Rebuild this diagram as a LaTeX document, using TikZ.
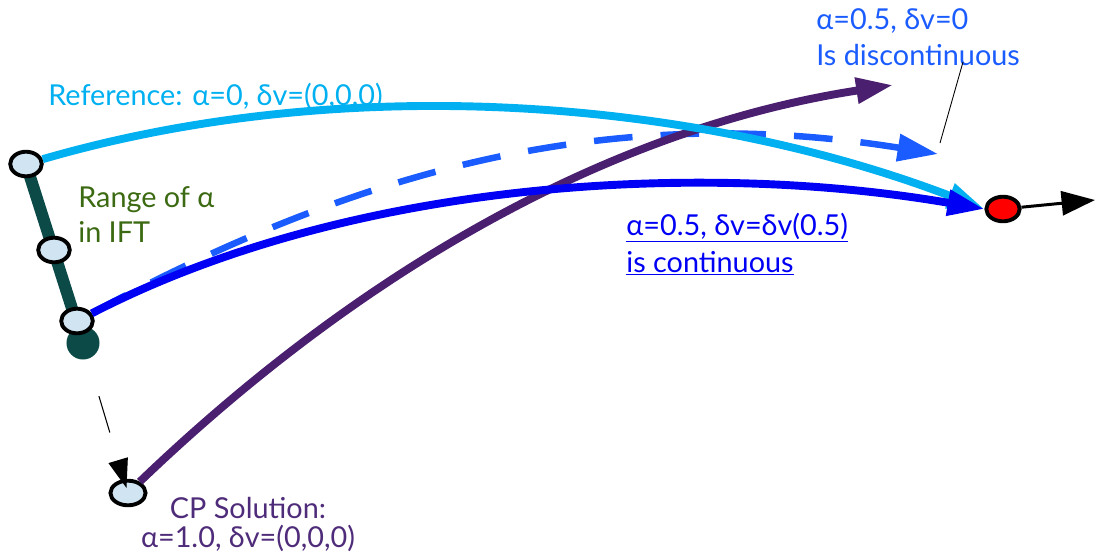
\documentclass[tikz,border=0pt]{standalone}
\usepackage{fontspec}
\setmainfont{Lato}
\usetikzlibrary{arrows.meta,shapes.geometric}
\definecolor{refcyan}{HTML}{00B0F0}
\definecolor{contblue}{HTML}{0000F5}
\definecolor{discblue}{HTML}{1A5CFF}
\definecolor{cppurple}{HTML}{4B1F70}
\definecolor{cptext}{HTML}{4F2C7A}
\definecolor{rangeteal}{HTML}{0B4A47}
\definecolor{rangegreen}{HTML}{3C6A12}
\definecolor{ptfill}{HTML}{D0E4F2}

\begin{document}
\begin{tikzpicture}[x=0.02cm, y=-0.02cm,
    pt/.style={ellipse, draw=black, line width=2.2pt, fill=ptfill,
               minimum width=18pt, minimum height=14pt, inner sep=0pt},
    curve/.style={line width=4.5pt},
    bigtip/.style={-{Triangle[length=21pt, width=14pt]}},
    lbl/.style={font=\fontsize{16.4}{19.5}\selectfont, align=left, inner sep=0pt}
  ]
  \useasboundingbox (0,0) rectangle (1096,552);

  \node[circle, fill=rangeteal, minimum size=18.8pt, inner sep=0pt] (stop) at (83,343) {};
  \draw[rangeteal, line width=6.8pt] (26,164) -- (stop.center);
  \node[pt] (a0) at (26,164) {};
  \node[pt] (amid) at (54,250) {};
  \node[pt] (ahalf) at (77,321) {};
  \node[pt, minimum width=20pt] (cp) at (128,493) {};
  \node[pt, fill=red, minimum width=19pt] (goal) at (1003,209) {};

  \coordinate (discend) at (938,154);
  \coordinate (cpend) at (893,85);
  \coordinate (goalend) at (1095,200);
  \coordinate (disctip) at (940,143);

  \draw[black, line width=0.6pt, dash pattern=on 0pt off 22pt on 21.6pt off 100pt,
        -{Triangle[length=16.5pt, width=11.4pt]}, shorten >=3pt] (stop) -- (cp.center);

  \draw[curve, line width=3.7pt, discblue, dash pattern=on 22pt off 16pt,
        -{Triangle[length=23pt, width=15pt]}]
    (ahalf) .. controls (350,175) and (600,100) .. (discend);
  \draw[curve, cppurple, bigtip] (cp) .. controls (350,280) and (600,130) .. (cpend);
  \draw[curve, refcyan, bigtip] (a0) .. controls (350,70) and (700,100) .. (goal.west);
  \draw[curve, contblue, bigtip] (ahalf) .. controls (350,180) and (700,160) .. (goal.west);
  \draw[black, line width=1.7pt, -{Triangle[length=19pt, width=13.7pt]}] (goal) -- (goalend);

  \node[lbl, text=refcyan, anchor=base west] (reflbl) at (48,105) {Reference: α=0, δv=(0,0,0)};
  \node[lbl, text=rangegreen, anchor=base west] (rangelbl) at (78,242) {Range of α\\in IFT};
  \node[lbl, text=contblue, anchor=base west, font=\fontsize{16.4}{21}\selectfont] (contlbl) at (626,272)
    {\underline{α=0.5, δv=δv(0.5)}\\\underline{is continuous}};
  \node[lbl, text=discblue, anchor=base west, font=\fontsize{16.4}{20}\selectfont] (disclbl) at (816,65)
    {α=0.5, δv=0\\Is discontinuous};
  \node[lbl, text=cptext, align=center, anchor=base, font=\fontsize{16.4}{16.5}\selectfont]
    (cplbl) at (248,547) {CP Solution:\\α=1.0, δv=(0,0,0)};
  \draw[black, line width=0.5pt] (963,62) -- (disctip);
\end{tikzpicture}
\end{document}
